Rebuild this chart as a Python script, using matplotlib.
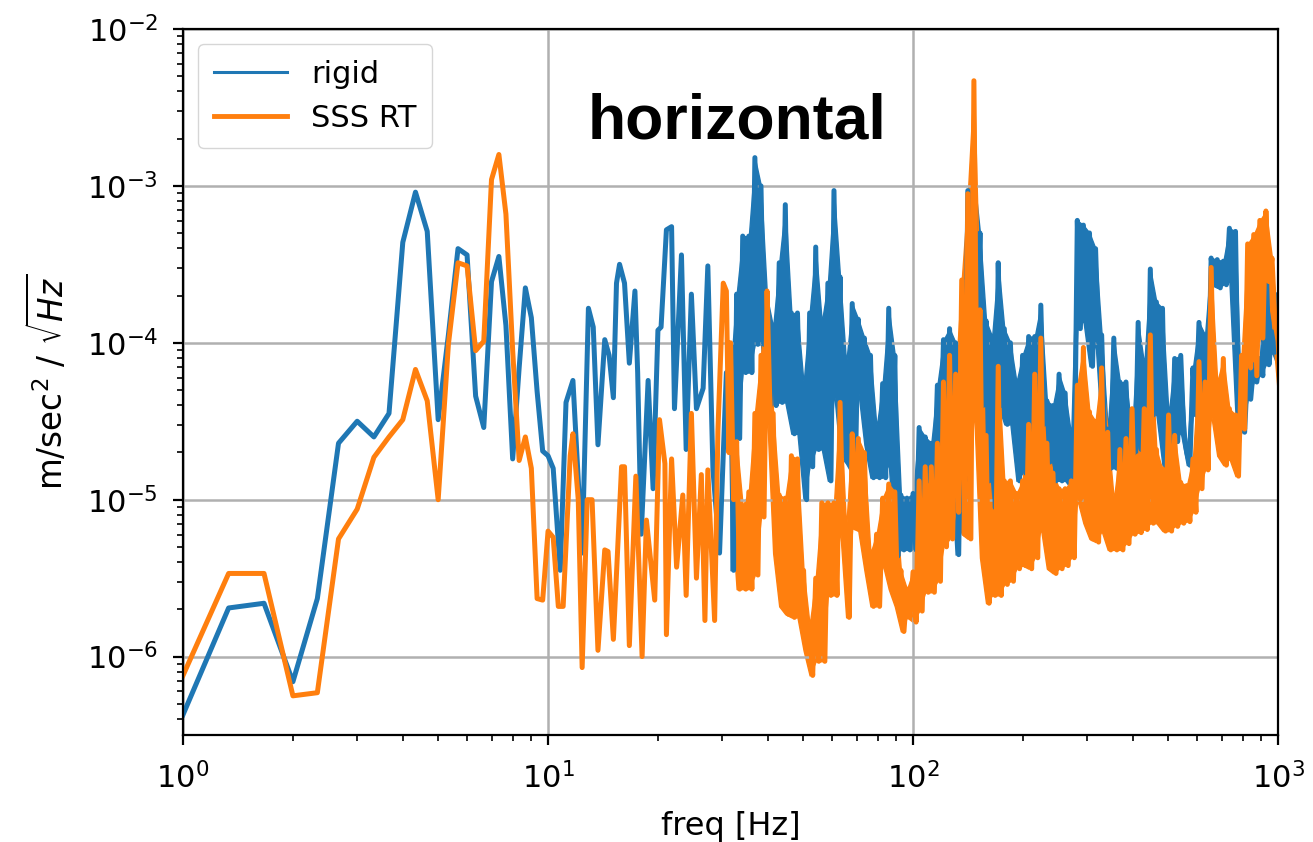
import numpy as np
import matplotlib
matplotlib.use("Agg")
import matplotlib.pyplot as plt

# values are log10 of the amplitude [m/sec^2/sqrt(Hz)]

# 1 .. 10 Hz, 1/3 Hz bins
f_low = np.arange(3, 31) / 3.0
rigid_low = [-6.37, -5.69, -5.66, -6.16, -5.63, -4.64, -4.50, -4.60, -4.45, -3.36,
             -3.04, -3.29, -4.49, -3.95, -3.40, -3.44, -4.34, -4.54, -3.61, -3.45,
             -3.89, -4.74, -4.16, -3.65, -3.84, -4.31, -4.69, -4.72]
sss_low = [-6.12, -5.47, -5.47, -6.25, -6.23, -5.25, -5.06, -4.73, -4.60, -4.49,
           -4.17, -4.37, -5.00, -4.01, -3.49, -3.51, -4.05, -3.99, -2.96, -2.80,
           -3.18, -4.05, -4.75, -4.60, -4.80, -5.63, -5.64, -5.20]

# 10 .. 31 Hz, single trace
rigid_mid_f = [10.33, 10.8, 11.2, 11.7, 12.4, 12.9, 13.3, 13.7, 14.3, 14.7,
               15.1, 15.4, 15.7, 16.2, 16.7, 17.3, 17.6, 18.0, 18.8, 19.4,
               20.0, 20.4, 21.1, 21.8, 22.2, 23.2, 23.9, 24.7, 25.5, 26.6,
               27.4, 28.3, 29.5, 30.8]
rigid_mid = [-4.80, -5.45, -4.38, -4.24, -5.34, -3.78, -3.90, -4.65, -3.98, -4.08,
             -4.35, -3.62, -3.50, -3.62, -4.13, -3.67, -4.19, -5.22, -4.24, -4.93,
             -3.92, -3.90, -3.28, -3.26, -4.42, -3.44, -4.68, -3.69, -4.42, -4.29,
             -3.51, -4.81, -5.34, -4.19]
sss_mid_f = [10.33, 10.67, 11.0, 11.5, 11.7, 12.1, 12.4, 12.8, 13.2, 13.7,
             14.3, 14.6, 15.1, 15.9, 16.2, 16.7, 17.4, 18.1, 18.6, 19.6,
             20.2, 20.9, 21.1, 21.8, 22.5, 23.4, 23.9, 24.7, 25.5, 26.3,
             26.9, 27.4, 28.6, 29.2, 30.2, 30.8, 31.3]
sss_mid = [-5.24, -5.68, -5.68, -4.72, -4.58, -5.00, -6.07, -5.00, -5.00, -5.96,
           -5.32, -5.33, -5.89, -4.79, -4.79, -5.93, -4.85, -6.00, -5.13, -5.64,
           -4.49, -4.77, -5.86, -4.74, -5.43, -4.97, -5.61, -4.45, -5.50, -4.84,
           -5.77, -4.81, -5.77, -4.56, -3.62, -3.67, -4.70]

# 31.6 .. 1000 Hz, dense bins: upper and lower edge of the trace, 60 steps per decade
f_band = np.geomspace(10 ** 1.5, 1000, 91)
rigid_top = [-4.17, -3.69, -3.32, -3.32, -2.82, -3.00, -3.71, -3.90, -3.49, -3.12,
             -3.81, -3.81, -4.26, -3.81, -3.39, -3.87, -3.62, -3.03, -3.58, -4.13,
             -3.75, -3.85, -3.97, -4.08, -4.54, -4.26, -3.78, -4.08, -4.97, -4.99,
             -4.96, -4.54, -4.60, -4.64, -4.27, -3.98, -3.91, -4.00, -4.00, -3.03,
             -2.93, -3.30, -3.86, -3.96, -3.49, -3.91, -4.00, -4.25, -4.08, -3.96,
             -3.96, -3.76, -4.37, -4.40, -4.20, -4.32, -4.59, -3.22, -3.25, -3.30,
             -3.40, -3.95, -4.55, -3.97, -4.25, -4.25, -4.57, -3.87, -4.14, -3.53,
             -3.74, -3.78, -4.46, -4.10, -4.08, -4.70, -4.16, -3.87, -3.95, -3.46,
             -3.47, -3.48, -3.27, -3.29, -4.46, -4.16, -4.14, -4.10, -3.44, -3.93, -3.69]
rigid_bot = [-5.45, -4.61, -4.19, -4.19, -4.01, -4.01, -4.40, -4.40, -4.38, -4.38,
             -4.58, -4.58, -5.00, -4.79, -4.68, -4.68, -4.88, -4.31, -4.72, -4.77,
             -4.84, -4.31, -4.65, -4.86, -4.86, -4.86, -4.77, -5.36, -5.32, -5.32,
             -5.32, -5.20, -4.88, -4.88, -4.76, -4.88, -4.64, -5.35, -4.88, -4.40,
             -3.91, -4.40, -4.88, -5.05, -4.40, -4.52, -4.52, -4.88, -4.83, -4.64,
             -4.88, -4.52, -4.76, -4.88, -4.88, -4.88, -4.93, -3.91, -3.86, -4.15,
             -4.00, -4.60, -4.80, -4.80, -4.78, -4.72, -4.89, -4.68, -4.78, -4.46,
             -4.46, -4.78, -4.85, -4.63, -4.57, -4.78, -4.46, -4.36, -4.36, -3.63,
             -3.65, -3.63, -3.61, -4.46, -4.57, -4.36, -4.25, -4.21, -4.14, -4.06, -4.16]
sss_top = [-4.00, -4.63, -5.04, -4.95, -4.45, -4.08, -3.67, -4.45, -4.97, -4.99,
           -4.72, -4.74, -5.45, -5.80, -5.50, -5.02, -5.02, -5.02, -4.38, -5.18,
           -4.58, -4.61, -4.70, -5.34, -5.22, -4.99, -4.90, -4.95, -5.45, -5.57,
           -5.46, -4.88, -4.79, -4.79, -4.64, -4.25, -4.08, -4.20, -3.60, -3.05,
           -2.33, -3.79, -4.59, -5.08, -4.15, -4.88, -4.88, -4.96, -4.88, -4.52,
           -4.20, -3.97, -4.64, -4.83, -4.93, -4.93, -4.88, -4.27, -4.03, -4.44,
           -4.50, -4.16, -4.57, -5.00, -4.68, -4.61, -4.42, -4.72, -4.42, -3.95,
           -4.68, -4.81, -4.46, -4.59, -4.89, -4.91, -4.74, -4.12, -4.25, -3.52,
           -4.25, -4.10, -4.42, -4.46, -4.08, -3.37, -3.31, -3.22, -3.16, -3.46, -3.99]
sss_bot = [-5.00, -5.57, -5.57, -5.57, -5.48, -5.11, -4.45, -5.34, -5.68, -5.73,
           -5.75, -5.75, -5.96, -6.12, -6.03, -6.03, -5.61, -5.61, -5.18, -5.75,
           -5.18, -5.20, -5.45, -5.68, -5.68, -5.41, -5.57, -5.68, -5.84, -5.75,
           -5.78, -5.71, -5.59, -5.59, -5.52, -5.30, -5.25, -5.08, -5.22, -5.25,
           -4.40, -5.37, -5.66, -5.61, -5.61, -5.54, -5.52, -5.44, -5.42, -5.44,
           -5.37, -5.18, -5.44, -5.47, -5.44, -5.42, -5.37, -5.00, -5.15, -5.25,
           -5.27, -5.20, -5.32, -5.32, -5.32, -5.28, -5.22, -5.21, -5.19, -5.15,
           -5.15, -5.20, -5.20, -5.17, -5.15, -5.14, -5.08, -4.93, -4.81, -4.46,
           -4.72, -4.78, -4.74, -4.85, -4.55, -4.16, -4.21, -3.97, -3.61, -3.87, -4.34]


def trace(f_mid, v_low, v_mid, top, bot):
    # low + mid as read, then the dense part as top/bottom vertices alternating
    fb = np.column_stack([f_band, f_band * 10 ** (1 / 120)]).ravel()
    vb = np.column_stack([top, bot]).ravel()
    f = np.concatenate([f_low, f_mid, fb])
    v = np.concatenate([v_low, v_mid, vb])
    return f, 10.0 ** v


fig = plt.figure(figsize=(13.13, 8.42), dpi=100)
ax = fig.add_axes([0.1394, 0.127, 0.834, 0.8386])

series = [('rigid', '#1f77b4', rigid_mid_f, rigid_low, rigid_mid, rigid_top, rigid_bot),
          ('SSS RT', '#ff7f0e', sss_mid_f, sss_low, sss_mid, sss_top, sss_bot)]
for name, col, fm, vl, vm, top, bot in series:
    f, v = trace(fm, vl, vm, top, bot)
    ax.plot(f, v, color=col, lw=3.6, label=name)
    ax.fill_between(f_band, 10.0 ** np.array(top), 10.0 ** np.array(bot),
                    facecolor=col, edgecolor=col, lw=1.0)

ax.set_xscale('log')
ax.set_yscale('log')
ax.set_xlim(1, 1000)
ax.set_ylim(10 ** -6.5, 1e-2)
ax.grid(True, which='major', color='#b0b0b0', lw=1.8)
ax.tick_params(which='major', labelsize=22, length=7, width=1.6)
ax.tick_params(which='minor', length=4, width=1.2)
ax.tick_params(axis='y', which='major', pad=11)
ax.tick_params(axis='x', which='major', pad=12)
for s in ax.spines.values():
    s.set_linewidth(1.6)

ax.set_xlabel('freq [Hz]', fontsize=23, labelpad=12)
ax.set_ylabel(r'm/sec$^2$ / $\sqrt{Hz}$', fontsize=23.5, labelpad=12)

leg = ax.legend(loc='upper left', fontsize=22, handlelength=2.4, borderpad=0.5)
leg.get_lines()[0].set_linewidth(2.2)
leg.get_lines()[1].set_linewidth(3.5)

fig.text(0.561, 0.836, 'horizontal', ha='center', va='baseline',
         fontsize=45, fontweight='bold', family='Liberation Sans')

fig.savefig('out.png', dpi=100)
